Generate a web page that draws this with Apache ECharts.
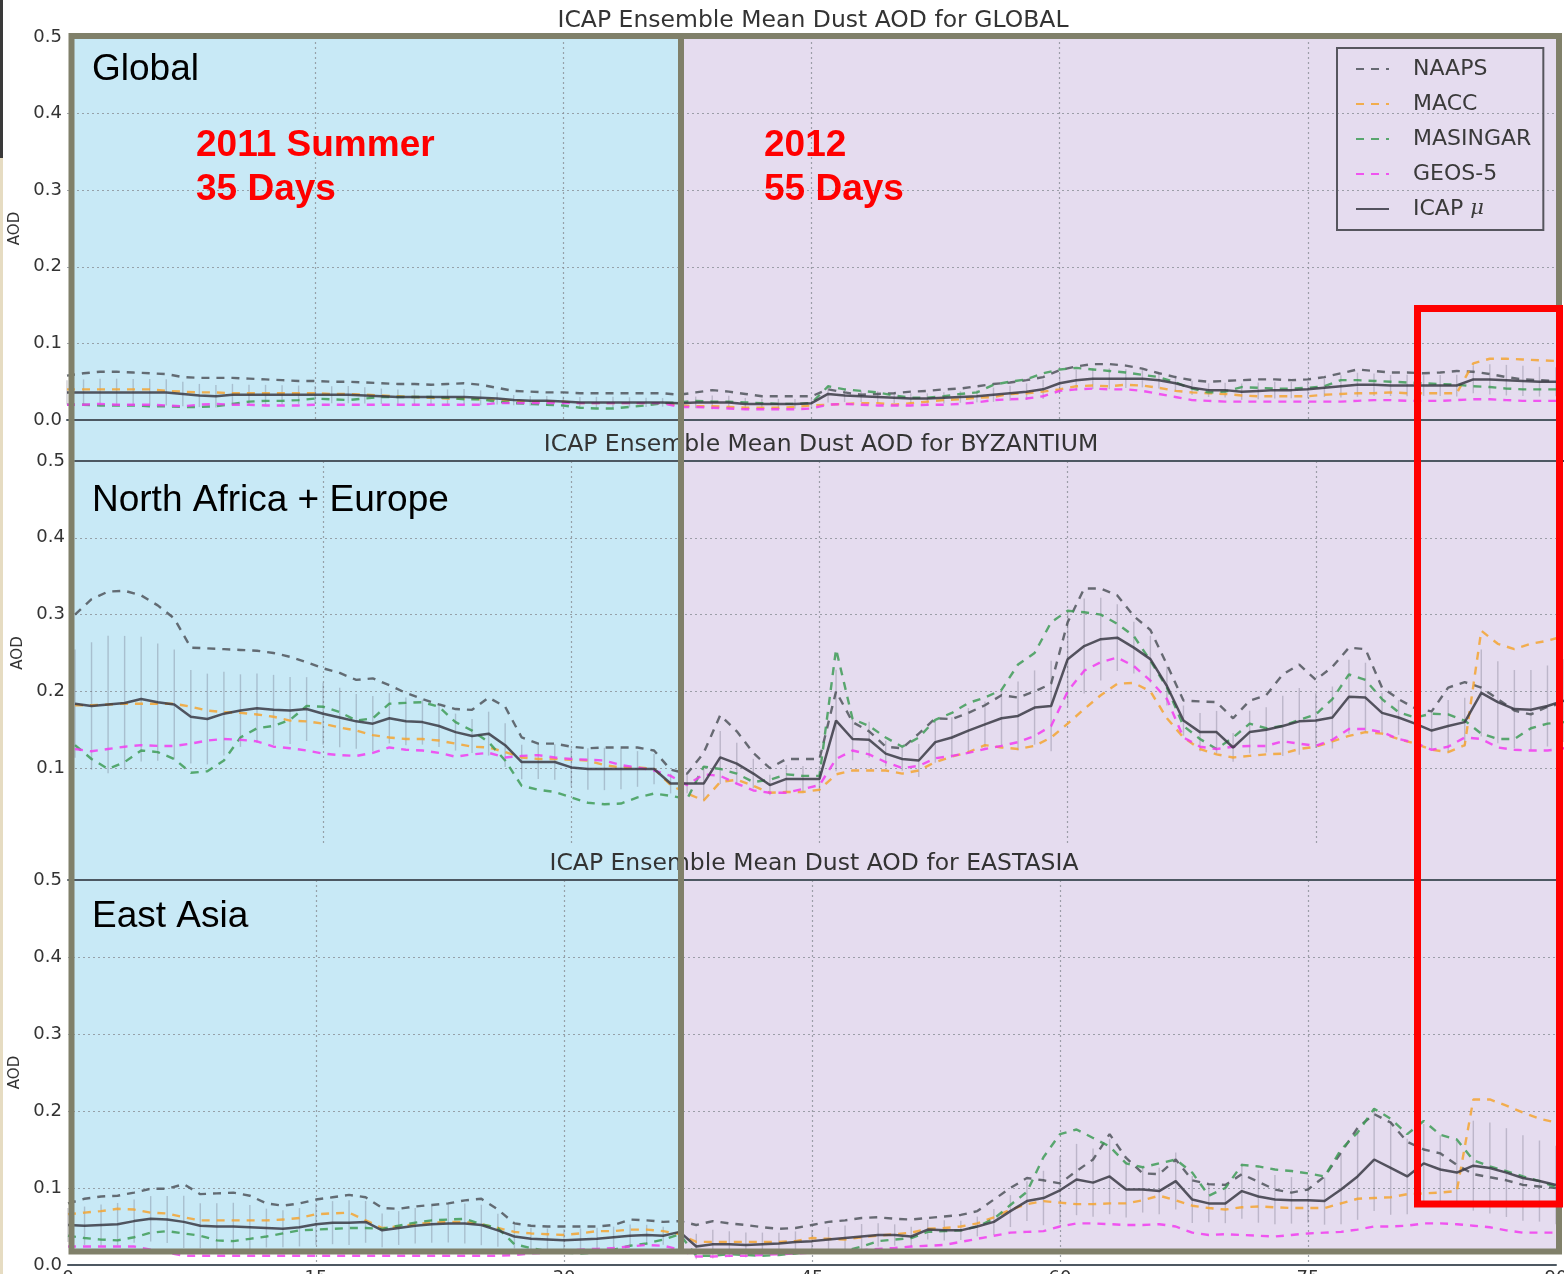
<!DOCTYPE html>
<html><head><meta charset="utf-8">
<script src="https://cdn.jsdelivr.net/npm/echarts/dist/echarts.min.js"></script>
<style>html,body{margin:0;padding:0;background:#fff}#c{width:1564px;height:1274px}</style>
</head><body><div id="c"></div>
<script>
// ---------------- data (x = day index 0..90) ----------------
const models = ['NAAPS', 'MACC', 'MASINGAR', 'GEOS-5', 'ICAP μ'];
const xTicks = [0, 15, 30, 45, 60, 75, 90];
const panelTitles = ['ICAP Ensemble Mean Dust AOD for GLOBAL', 'ICAP Ensemble Mean Dust AOD for BYZANTIUM', 'ICAP Ensemble Mean Dust AOD for EASTASIA'];
const panelLabels = ['Global', 'North Africa + Europe', 'East Asia'];

const topNAAPS = [0.058,0.061,0.063,0.063,0.062,0.061,0.060,0.056,0.055,0.055,
0.055,0.054,0.053,0.052,0.051,0.051,0.050,0.050,0.049,0.048,
0.047,0.047,0.046,0.047,0.048,0.046,0.042,0.038,0.037,0.036,
0.036,0.035,0.035,0.035,0.035,0.035,0.035,0.033,0.036,0.039,
0.037,0.034,0.031,0.031,0.031,0.031,0.040,0.036,0.033,0.034,
0.035,0.037,0.038,0.040,0.041,0.044,0.047,0.049,0.052,0.056,
0.065,0.070,0.073,0.073,0.071,0.067,0.061,0.056,0.052,0.050,
0.051,0.052,0.053,0.053,0.052,0.053,0.056,0.061,0.066,0.064,
0.062,0.062,0.061,0.062,0.064,0.063,0.060,0.056,0.053,0.052,
0.051];
const topMACC = [0.040,0.040,0.040,0.040,0.040,0.040,0.038,0.037,0.036,0.036,
0.035,0.035,0.035,0.035,0.035,0.035,0.034,0.034,0.033,0.032,
0.031,0.030,0.029,0.028,0.028,0.027,0.026,0.025,0.024,0.024,
0.024,0.022,0.022,0.022,0.022,0.022,0.022,0.019,0.018,0.018,
0.017,0.016,0.016,0.016,0.017,0.019,0.020,0.021,0.022,0.022,
0.020,0.022,0.024,0.026,0.027,0.029,0.030,0.034,0.035,0.037,
0.040,0.044,0.045,0.044,0.046,0.045,0.042,0.038,0.036,0.035,
0.034,0.032,0.031,0.031,0.031,0.031,0.033,0.034,0.035,0.035,
0.036,0.035,0.035,0.035,0.035,0.074,0.080,0.080,0.079,0.078,
0.077];
const topMASINGAR = [0.020,0.020,0.019,0.019,0.019,0.018,0.018,0.017,0.017,0.018,
0.021,0.024,0.025,0.025,0.026,0.028,0.027,0.026,0.028,0.030,
0.030,0.030,0.030,0.029,0.027,0.027,0.024,0.022,0.021,0.020,
0.019,0.016,0.015,0.015,0.017,0.019,0.022,0.023,0.025,0.024,
0.024,0.023,0.022,0.021,0.021,0.022,0.044,0.040,0.038,0.036,
0.032,0.029,0.029,0.031,0.034,0.036,0.046,0.050,0.053,0.061,
0.066,0.068,0.066,0.064,0.062,0.059,0.056,0.049,0.041,0.036,
0.037,0.043,0.042,0.041,0.041,0.042,0.044,0.052,0.052,0.051,
0.050,0.049,0.048,0.047,0.046,0.044,0.043,0.041,0.040,0.040,
0.040];
const topGEOS5 = [0.020,0.020,0.021,0.020,0.020,0.020,0.019,0.018,0.020,0.021,
0.020,0.020,0.019,0.019,0.019,0.020,0.020,0.020,0.020,0.020,
0.020,0.020,0.020,0.020,0.020,0.020,0.022,0.022,0.022,0.022,
0.022,0.022,0.022,0.022,0.022,0.022,0.022,0.017,0.017,0.016,
0.015,0.014,0.014,0.014,0.014,0.015,0.020,0.021,0.020,0.019,
0.019,0.019,0.020,0.020,0.021,0.023,0.026,0.027,0.028,0.031,
0.038,0.040,0.041,0.040,0.040,0.038,0.034,0.030,0.026,0.025,
0.024,0.024,0.024,0.024,0.024,0.024,0.024,0.024,0.025,0.026,
0.026,0.025,0.025,0.025,0.026,0.027,0.027,0.026,0.025,0.025,
0.025];
const topICAP = [0.036,0.036,0.036,0.036,0.036,0.036,0.036,0.034,0.032,0.031,
0.033,0.033,0.033,0.033,0.033,0.033,0.033,0.033,0.032,0.031,
0.030,0.030,0.030,0.030,0.030,0.029,0.028,0.026,0.025,0.025,
0.024,0.023,0.023,0.023,0.023,0.023,0.023,0.022,0.023,0.023,
0.023,0.021,0.021,0.021,0.021,0.022,0.034,0.032,0.031,0.030,
0.029,0.028,0.028,0.029,0.030,0.031,0.033,0.035,0.037,0.040,
0.048,0.052,0.054,0.054,0.054,0.054,0.052,0.048,0.042,0.039,
0.039,0.037,0.038,0.039,0.039,0.040,0.042,0.044,0.046,0.046,
0.045,0.045,0.045,0.045,0.045,0.053,0.053,0.052,0.051,0.050,
0.050];

const midNAAPS = [0.300,0.320,0.330,0.331,0.325,0.312,0.295,0.257,0.256,0.255,
0.254,0.253,0.250,0.245,0.238,0.230,0.224,0.215,0.217,0.208,
0.198,0.190,0.183,0.177,0.176,0.192,0.180,0.140,0.132,0.132,
0.128,0.126,0.127,0.127,0.127,0.123,0.098,0.093,0.120,0.169,
0.148,0.120,0.100,0.112,0.112,0.112,0.200,0.160,0.148,0.128,
0.126,0.145,0.165,0.164,0.172,0.182,0.195,0.192,0.200,0.210,
0.290,0.334,0.334,0.325,0.298,0.280,0.235,0.188,0.187,0.186,
0.165,0.188,0.195,0.222,0.235,0.215,0.232,0.257,0.255,0.205,
0.190,0.178,0.174,0.205,0.212,0.205,0.190,0.175,0.170,0.180,
0.185];
const midMACC = [0.182,0.182,0.183,0.184,0.184,0.184,0.184,0.180,0.175,0.173,
0.172,0.170,0.167,0.162,0.161,0.158,0.153,0.149,0.143,0.140,
0.138,0.138,0.136,0.132,0.128,0.127,0.121,0.114,0.112,0.112,
0.111,0.110,0.104,0.101,0.101,0.099,0.078,0.067,0.058,0.082,
0.085,0.077,0.068,0.069,0.069,0.072,0.092,0.097,0.097,0.097,
0.093,0.097,0.108,0.115,0.121,0.130,0.127,0.125,0.129,0.140,
0.158,0.177,0.195,0.210,0.211,0.200,0.165,0.140,0.125,0.118,
0.114,0.116,0.118,0.119,0.125,0.128,0.135,0.142,0.147,0.145,
0.138,0.132,0.124,0.121,0.130,0.279,0.262,0.255,0.262,0.266,
0.272];
const midMASINGAR = [0.130,0.112,0.099,0.108,0.123,0.121,0.112,0.094,0.096,0.110,
0.140,0.152,0.155,0.163,0.181,0.180,0.173,0.162,0.165,0.184,
0.185,0.186,0.180,0.160,0.149,0.134,0.110,0.077,0.072,0.069,
0.062,0.055,0.053,0.054,0.062,0.067,0.064,0.060,0.102,0.099,
0.093,0.082,0.085,0.092,0.090,0.090,0.255,0.164,0.155,0.140,
0.128,0.140,0.163,0.172,0.185,0.192,0.202,0.235,0.250,0.290,
0.305,0.303,0.300,0.288,0.272,0.240,0.205,0.155,0.138,0.125,
0.140,0.158,0.152,0.155,0.163,0.170,0.190,0.222,0.215,0.190,
0.173,0.166,0.171,0.170,0.162,0.145,0.138,0.138,0.152,0.158,
0.160];
const midGEOS5 = [0.125,0.122,0.125,0.128,0.130,0.129,0.129,0.132,0.136,0.138,
0.137,0.135,0.128,0.126,0.123,0.119,0.117,0.116,0.120,0.127,
0.124,0.123,0.120,0.115,0.118,0.120,0.114,0.116,0.117,0.114,
0.112,0.111,0.110,0.104,0.101,0.097,0.090,0.078,0.092,0.090,
0.080,0.071,0.068,0.068,0.073,0.078,0.112,0.123,0.118,0.108,
0.100,0.103,0.113,0.116,0.120,0.125,0.129,0.134,0.142,0.155,
0.200,0.227,0.238,0.244,0.233,0.214,0.190,0.140,0.128,0.125,
0.128,0.129,0.129,0.135,0.132,0.129,0.137,0.151,0.151,0.147,
0.138,0.133,0.124,0.128,0.140,0.138,0.127,0.124,0.123,0.123,
0.126];
const midICAP = [0.184,0.181,0.183,0.185,0.190,0.186,0.183,0.167,0.164,0.171,
0.175,0.178,0.176,0.175,0.177,0.171,0.166,0.161,0.158,0.165,
0.161,0.160,0.155,0.147,0.142,0.145,0.130,0.108,0.108,0.108,
0.101,0.099,0.099,0.099,0.099,0.099,0.080,0.080,0.080,0.114,
0.106,0.093,0.078,0.086,0.086,0.086,0.162,0.138,0.137,0.119,
0.112,0.110,0.134,0.140,0.149,0.157,0.165,0.168,0.179,0.181,
0.242,0.259,0.268,0.270,0.257,0.242,0.207,0.162,0.147,0.147,
0.127,0.147,0.150,0.155,0.161,0.162,0.166,0.193,0.192,0.172,
0.166,0.158,0.149,0.155,0.160,0.198,0.186,0.177,0.176,0.181,
0.188];

const botNAAPS = [0.080,0.086,0.089,0.090,0.094,0.099,0.099,0.105,0.092,0.093,
0.094,0.090,0.080,0.077,0.080,0.085,0.088,0.091,0.088,0.074,
0.073,0.076,0.078,0.080,0.084,0.086,0.072,0.054,0.051,0.050,
0.050,0.050,0.050,0.052,0.059,0.058,0.056,0.057,0.052,0.057,
0.054,0.052,0.049,0.047,0.048,0.052,0.056,0.058,0.061,0.062,
0.060,0.059,0.061,0.063,0.065,0.070,0.085,0.100,0.113,0.110,
0.106,0.122,0.137,0.170,0.139,0.119,0.118,0.137,0.110,0.105,
0.104,0.118,0.108,0.098,0.094,0.098,0.115,0.146,0.178,0.196,
0.185,0.160,0.150,0.145,0.130,0.118,0.114,0.110,0.104,0.102,
0.100];
const botMACC = [0.066,0.068,0.070,0.073,0.072,0.068,0.067,0.062,0.058,0.058,
0.058,0.058,0.058,0.059,0.061,0.066,0.067,0.068,0.058,0.048,
0.050,0.053,0.055,0.056,0.056,0.053,0.048,0.043,0.041,0.040,
0.039,0.041,0.044,0.044,0.046,0.046,0.044,0.040,0.030,0.030,
0.030,0.030,0.030,0.030,0.031,0.035,0.034,0.033,0.036,0.038,
0.040,0.042,0.047,0.048,0.050,0.054,0.062,0.072,0.079,0.083,
0.081,0.079,0.079,0.080,0.080,0.084,0.090,0.084,0.077,0.074,
0.072,0.075,0.076,0.075,0.074,0.074,0.074,0.080,0.086,0.087,
0.088,0.092,0.093,0.094,0.096,0.215,0.215,0.207,0.198,0.190,
0.185];
const botMASINGAR = [0.038,0.035,0.033,0.032,0.036,0.042,0.044,0.041,0.038,0.032,
0.031,0.034,0.037,0.041,0.045,0.046,0.047,0.048,0.048,0.047,
0.051,0.055,0.058,0.059,0.060,0.053,0.048,0.027,0.022,0.018,
0.016,0.015,0.016,0.020,0.025,0.028,0.033,0.040,0.012,0.012,
0.014,0.013,0.012,0.013,0.015,0.018,0.016,0.018,0.024,0.031,
0.033,0.035,0.043,0.044,0.045,0.050,0.060,0.078,0.095,0.140,
0.170,0.176,0.165,0.154,0.132,0.127,0.132,0.137,0.120,0.090,
0.100,0.130,0.128,0.124,0.122,0.119,0.115,0.150,0.172,0.203,
0.190,0.170,0.187,0.169,0.163,0.136,0.128,0.122,0.115,0.109,
0.101];
const botGEOS5 = [0.024,0.024,0.024,0.024,0.024,0.020,0.016,0.012,0.012,0.012,
0.012,0.012,0.012,0.012,0.012,0.012,0.012,0.012,0.012,0.012,
0.012,0.012,0.012,0.012,0.012,0.012,0.012,0.013,0.015,0.016,
0.018,0.020,0.021,0.022,0.024,0.026,0.025,0.020,0.011,0.011,
0.012,0.012,0.013,0.014,0.015,0.016,0.017,0.018,0.019,0.021,
0.022,0.024,0.025,0.026,0.030,0.034,0.038,0.042,0.043,0.044,
0.050,0.054,0.054,0.053,0.052,0.052,0.053,0.050,0.042,0.039,
0.040,0.039,0.038,0.037,0.039,0.041,0.042,0.043,0.046,0.050,
0.050,0.051,0.054,0.054,0.053,0.051,0.049,0.045,0.042,0.042,
0.042];
const botICAP = [0.052,0.051,0.052,0.053,0.057,0.060,0.059,0.056,0.051,0.050,
0.050,0.049,0.048,0.047,0.049,0.053,0.055,0.055,0.056,0.045,
0.048,0.051,0.053,0.054,0.054,0.052,0.045,0.037,0.034,0.033,
0.032,0.033,0.034,0.036,0.038,0.039,0.038,0.043,0.024,0.027,
0.027,0.026,0.027,0.028,0.030,0.031,0.033,0.035,0.037,0.039,
0.039,0.037,0.046,0.045,0.045,0.050,0.056,0.070,0.083,0.087,
0.097,0.111,0.107,0.115,0.098,0.098,0.096,0.109,0.085,0.080,
0.080,0.096,0.089,0.085,0.084,0.084,0.083,0.098,0.115,0.137,
0.126,0.115,0.132,0.124,0.120,0.129,0.126,0.120,0.113,0.109,
0.104];

// ---------------- chart ----------------
const colors = ['#50555c', '#f4a531', '#3f9c57', '#f23cf0', '#3a3a44'];
const FONT = 'DejaVu Sans';
const FRAME = '#80806a';

const panels = [
  { members: [topNAAPS, topMACC, topMASINGAR, topGEOS5], mean: topICAP, xAxisIndex: 0, yAxisIndex: 0 },
  { members: [midNAAPS, midMACC, midMASINGAR, midGEOS5], mean: midICAP, xAxisIndex: 1, yAxisIndex: 1 },
  { members: [botNAAPS, botMACC, botMASINGAR, botGEOS5], mean: botICAP, xAxisIndex: 3, yAxisIndex: 2 }
];

function pairs(arr) { return arr.map((v, i) => [i, v]); }

function spread(p) {
  return p.mean.map((m, i) => {
    const vals = p.members.map(a => a[i]);
    const mu = vals.reduce((s, v) => s + v, 0) / vals.length;
    const sd = Math.sqrt(vals.reduce((s, v) => s + (v - mu) * (v - mu), 0) / vals.length);
    return [i, Math.max(0, m - sd), m + sd];
  });
}

const series = [];
panels.forEach(p => {
  series.push({
    type: 'custom', xAxisIndex: p.xAxisIndex, yAxisIndex: p.yAxisIndex, z: 2, silent: true,
    data: spread(p),
    renderItem: function (params, api) {
      const a = api.coord([api.value(0), api.value(1)]);
      const b = api.coord([api.value(0), api.value(2)]);
      return { type: 'line', shape: { x1: a[0], y1: a[1], x2: b[0], y2: b[1] },
        style: { stroke: 'rgba(95,95,115,0.30)', lineWidth: 1.4 } };
    }
  });
  p.members.forEach((arr, k) => {
    series.push({
      name: models[k], type: 'line', xAxisIndex: p.xAxisIndex, yAxisIndex: p.yAxisIndex,
      data: pairs(arr), symbol: 'none', z: 3,
      itemStyle: { color: colors[k] },
      lineStyle: { color: colors[k], width: 2.4, type: [8, 7], opacity: 0.85 }
    });
  });
  series.push({
    name: models[4], type: 'line', xAxisIndex: p.xAxisIndex, yAxisIndex: p.yAxisIndex,
    data: pairs(p.mean), symbol: 'none', z: 4,
    itemStyle: { color: colors[4] },
    lineStyle: { color: colors[4], width: 2.5, opacity: 0.85 }
  });
});

const splitDotted = { show: true, showMinLine: false, showMaxLine: false,
  lineStyle: { color: '#8a8f96', type: [2, 3], width: 1.2, opacity: 0.8 } };

function xAxis(grid, opts) {
  return Object.assign({
    type: 'value', gridIndex: grid, min: 0, max: 90, interval: 15,
    axisTick: { show: false }, axisLabel: { show: false },
    axisLine: { show: false }, splitLine: { show: false }
  }, opts);
}
function yAxis(grid, margin, showMin) {
  return {
    type: 'value', gridIndex: grid, min: 0, max: 0.5, interval: 0.1,
    name: 'AOD', nameLocation: 'middle', nameGap: 44,
    nameTextStyle: { fontFamily: FONT, fontSize: 15, color: '#333' },
    axisLine: { show: false }, axisTick: { show: false },
    axisLabel: { margin: margin, fontFamily: FONT, fontSize: 18, color: '#333', showMinLabel: showMin,
      formatter: v => v.toFixed(1) },
    splitLine: splitDotted
  };
}
const spine = { show: true, lineStyle: { color: '#4d5862', width: 2 } };
const titleStyle = { fontFamily: FONT, fontSize: 23.5, fontWeight: 'normal', color: '#333' };

const option = {
  animation: false,
  backgroundColor: '#ffffff',
  title: [
    { text: panelTitles[0], left: 813, top: 9, textAlign: 'center', padding: 0, textStyle: titleStyle },
    { text: panelTitles[1], left: 821, top: 433, textAlign: 'center', padding: 0, z: 5, textStyle: titleStyle },
    { text: panelTitles[2], left: 814, top: 852, textAlign: 'center', padding: 0, z: 5, textStyle: titleStyle }
  ],
  legend: {
    data: models, orient: 'vertical', left: 1337, top: 48,
    padding: [9, 12, 9, 18], itemWidth: 33, itemHeight: 14, itemGap: 11,
    borderColor: '#56565e', borderWidth: 2, z: 20,
    itemStyle: { color: 'rgba(0,0,0,0)', borderWidth: 0, opacity: 0 },
    textStyle: { fontFamily: FONT, fontSize: 22, color: '#3a3a3a', padding: [0, 0, 0, 19], lineHeight: 24,
      rich: { b: { fontStyle: 'italic', fontFamily: 'DejaVu Serif', fontSize: 21, color: '#3a3a3a' } } },
    formatter: n => n === 'ICAP μ' ? 'ICAP {b|μ}' : n
  },
  grid: [
    { left: 67, right: 8, top: 37, height: 383, outerBoundsMode: 'none', containLabel: false },
    { left: 75, right: 0, top: 461, height: 384, outerBoundsMode: 'none', containLabel: false },
    { left: 68, right: 8, top: 880, height: 385, outerBoundsMode: 'none', containLabel: false }
  ],
  xAxis: [
    xAxis(0, { axisLine: spine, splitLine: splitDotted }),
    xAxis(1, { splitLine: splitDotted }),
    xAxis(1, { position: 'top', axisLine: spine }),
    xAxis(2, { axisLine: spine, splitLine: splitDotted,
      axisLabel: { show: true, margin: 4, fontFamily: FONT, fontSize: 18, color: '#333' } }),
    xAxis(2, { position: 'top', axisLine: spine })
  ],
  yAxis: [yAxis(0, 5, true), yAxis(1, 10, false), yAxis(2, 6, true)],
  series: series,
  graphic: [
    // backgrounds of the two periods
    { type: 'rect', z: -10, silent: true, shape: { x: 72, y: 36, width: 609, height: 1215 }, style: { fill: '#c8e9f6' } },
    { type: 'rect', z: -10, silent: true, shape: { x: 681, y: 36, width: 879, height: 1215 }, style: { fill: '#e5dcef' } },
    // page edge decoration
    { type: 'rect', z: 100, silent: true, shape: { x: 0, y: 0, width: 3, height: 158 }, style: { fill: '#3a3a3a' } },
    { type: 'rect', z: 100, silent: true, shape: { x: 0, y: 158, width: 3, height: 1116 }, style: { fill: '#e6dcc2' } },
    // frame and divider
    { type: 'rect', z: 100, silent: true, shape: { x: 71.5, y: 36, width: 1487.5, height: 1215.5 },
      style: { fill: 'none', stroke: FRAME, lineWidth: 6 } },
    { type: 'line', z: 100, silent: true, shape: { x1: 681, y1: 36, x2: 681, y2: 1251 },
      style: { stroke: FRAME, lineWidth: 6 } },
    // red highlight box
    { type: 'rect', z: 101, silent: true, shape: { x: 1417.5, y: 308.5, width: 142, height: 895.5 },
      style: { fill: 'none', stroke: '#ff0000', lineWidth: 7 } },
    // annotations
    { type: 'text', z: 101, silent: true, style: { text: panelLabels[0], x: 92, y: 70, verticalAlign: 'middle', font: '37px "Liberation Sans", Arial, sans-serif', fill: '#000' } },
    { type: 'text', z: 101, silent: true, style: { text: panelLabels[1], x: 92, y: 501, verticalAlign: 'middle', font: '37px "Liberation Sans", Arial, sans-serif', fill: '#000' } },
    { type: 'text', z: 101, silent: true, style: { text: panelLabels[2], x: 92, y: 917, verticalAlign: 'middle', font: '37px "Liberation Sans", Arial, sans-serif', fill: '#000' } },
    { type: 'text', z: 101, silent: true, style: { text: '2011 Summer', x: 196, y: 146, verticalAlign: 'middle', font: 'bold 37px "Liberation Sans", Arial, sans-serif', fill: '#ff0000' } },
    { type: 'text', z: 101, silent: true, style: { text: '35 Days', x: 196, y: 190, verticalAlign: 'middle', font: 'bold 37px "Liberation Sans", Arial, sans-serif', fill: '#ff0000' } },
    { type: 'text', z: 101, silent: true, style: { text: '2012', x: 764, y: 146, verticalAlign: 'middle', font: 'bold 37px "Liberation Sans", Arial, sans-serif', fill: '#ff0000' } },
    { type: 'text', z: 101, silent: true, style: { text: '55 Days', x: 764, y: 190, verticalAlign: 'middle', font: 'bold 37px "Liberation Sans", Arial, sans-serif', fill: '#ff0000' } }
  ]
};

const chart = echarts.init(document.getElementById('c'), null, { renderer: 'canvas' });
chart.setOption(option);
</script></body></html>
